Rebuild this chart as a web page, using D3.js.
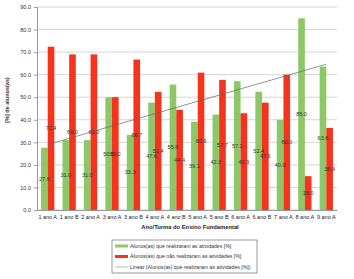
<!DOCTYPE html>
<html>
<head>
<meta charset="utf-8">
<script src="https://cdn.jsdelivr.net/npm/d3@7"></script>
<style>
  body { margin: 0; background: #fff; }
  svg { display: block; font-family: "Liberation Sans", Arial, sans-serif; }
</style>
</head>
<body>
<div id="chart"></div>
<script>
// data
const turmas = ['1 ano A','1 ano B','2 ano A','3 ano A','3 ano B','4 ano A','4 ano B',
                '5 ano A','5 ano B','6 ano A','6 ano B','7 ano A','8 ano A','9 ano A'];
const realizaram = [27.6, 31.0, 31.0, 50.0, 33.3, 47.6, 55.6, 39.1, 42.3, 57.1, 52.4, 40.0, 85.0, 63.6];
const naoRealizaram = [72.4, 69.0, 69.0, 50.0, 66.7, 52.4, 44.4, 60.9, 57.7, 42.9, 47.6, 60.0, 15.0, 36.4];
const yTicks = [0, 10, 20, 30, 40, 50, 60, 70, 80, 90];
const legendLabels = [
  'Alunos(as) que realizaram as atividades [%]',
  'Alunos(as) que não realizaram as atividades [%]',
  'Linear (Alunos(as) que realizaram as atividades [%])'
];

const W = 354, H = 279;
const m = {top: 7, right: 17, bottom: 69, left: 37};
const green = '#8cc868', red = '#f4341c';

const svg = d3.select('#chart').append('svg')
  .attr('width', W).attr('height', H);

const x = d3.scaleBand()
  .domain(turmas)
  .range([m.left, W - m.right])
  .paddingInner(0.38).paddingOuter(0.19);
const xs = d3.scaleBand()
  .domain(['sim','nao'])
  .range([0, x.bandwidth()]);
const y = d3.scaleLinear()
  .domain([0, 90])
  .range([H - m.bottom, m.top]);

// gridlines
svg.append('g')
  .selectAll('line')
  .data(yTicks)
  .join('line')
  .attr('x1', m.left).attr('x2', W - m.right)
  .attr('y1', d => y(d)).attr('y2', d => y(d))
  .attr('stroke', '#c9c9c9').attr('stroke-width', 0.8);

// y axis
const yAxis = svg.append('g')
  .attr('transform', `translate(${m.left},0)`)
  .call(d3.axisLeft(y).tickValues(yTicks).tickFormat(d3.format('.1f')).tickSize(3));
yAxis.select('.domain').attr('stroke', '#9a9a9a');
yAxis.selectAll('.tick line').attr('stroke', '#9a9a9a');
yAxis.selectAll('text').attr('font-size', 5.5).attr('fill', '#333');

// x axis
const xAxis = svg.append('g')
  .attr('transform', `translate(0,${y(0)})`)
  .call(d3.axisBottom(x).tickSize(0).tickPadding(5));
xAxis.select('.domain').attr('stroke', '#9a9a9a');
xAxis.selectAll('text').attr('font-size', 5.5).attr('fill', '#222');

// bars
const rows = turmas.map((t, i) => ({t, sim: realizaram[i], nao: naoRealizaram[i]}));
const groups = svg.append('g')
  .selectAll('g')
  .data(rows)
  .join('g')
  .attr('transform', d => `translate(${x(d.t)},0)`);

groups.append('rect')
  .attr('x', xs('sim')).attr('width', xs.bandwidth())
  .attr('y', d => y(d.sim)).attr('height', d => y(0) - y(d.sim))
  .attr('fill', green);
groups.append('rect')
  .attr('x', xs('nao')).attr('width', xs.bandwidth())
  .attr('y', d => y(d.nao)).attr('height', d => y(0) - y(d.nao))
  .attr('fill', red);

// trendline (least squares over category index, like the spreadsheet)
const n = realizaram.length;
const xi = d3.range(1, n + 1);
const mx = d3.mean(xi), my = d3.mean(realizaram);
const slope = d3.sum(xi, (v, i) => (v - mx) * (realizaram[i] - my)) / d3.sum(xi, v => (v - mx) ** 2);
const icpt = my - slope * mx;
const cx = i => x(turmas[i]) + x.bandwidth() / 2;
svg.append('line')
  .attr('x1', cx(0)).attr('y1', y(icpt + slope * 1))
  .attr('x2', cx(n - 1)).attr('y2', y(icpt + slope * n))
  .attr('stroke', '#666').attr('stroke-width', 0.7);

// data labels, centred in each bar
groups.append('text')
  .attr('x', xs('sim') + xs.bandwidth() / 2)
  .attr('y', d => y(d.sim / 2))
  .attr('dy', '0.35em')
  .attr('text-anchor', 'middle')
  .attr('font-size', 5.5).attr('fill', '#333')
  .text(d => d.sim.toFixed(1));
groups.append('text')
  .attr('x', xs('nao') + xs.bandwidth() / 2)
  .attr('y', d => y(d.nao / 2))
  .attr('dy', '0.35em')
  .attr('text-anchor', 'middle')
  .attr('font-size', 5.5).attr('fill', '#333')
  .text(d => d.nao.toFixed(1));

// axis titles
svg.append('text')
  .attr('transform', 'translate(9,100) rotate(-90)')
  .attr('text-anchor', 'middle')
  .attr('font-size', 5.5).attr('font-weight', 'bold').attr('fill', '#333')
  .text('[%] de alunos(as)');
svg.append('text')
  .attr('x', 190).attr('y', 229)
  .attr('text-anchor', 'middle')
  .attr('font-size', 5.8).attr('font-weight', 'bold').attr('fill', '#222')
  .text('Ano/Turma do Ensino Fundamental');

// legend
const lg = svg.append('g').attr('transform', 'translate(112,240)');
lg.append('rect')
  .attr('width', 145).attr('height', 33)
  .attr('fill', '#fff').attr('stroke', '#555').attr('stroke-width', 0.6);
const swatch = [
  {c: green, w: 3},
  {c: red, w: 3},
  {c: '#999', w: 0.7}
];
const item = lg.selectAll('g.item')
  .data(legendLabels)
  .join('g')
  .attr('class', 'item')
  .attr('transform', (d, i) => `translate(0,${6 + i * 10.5})`);
item.append('line')
  .attr('x1', 3).attr('x2', 16)
  .attr('stroke', (d, i) => swatch[i].c)
  .attr('stroke-width', (d, i) => swatch[i].w);
item.append('text')
  .attr('x', 18).attr('dy', '0.35em')
  .attr('font-size', 5.2).attr('fill', '#333')
  .text(d => d);
</script>
</body>
</html>
